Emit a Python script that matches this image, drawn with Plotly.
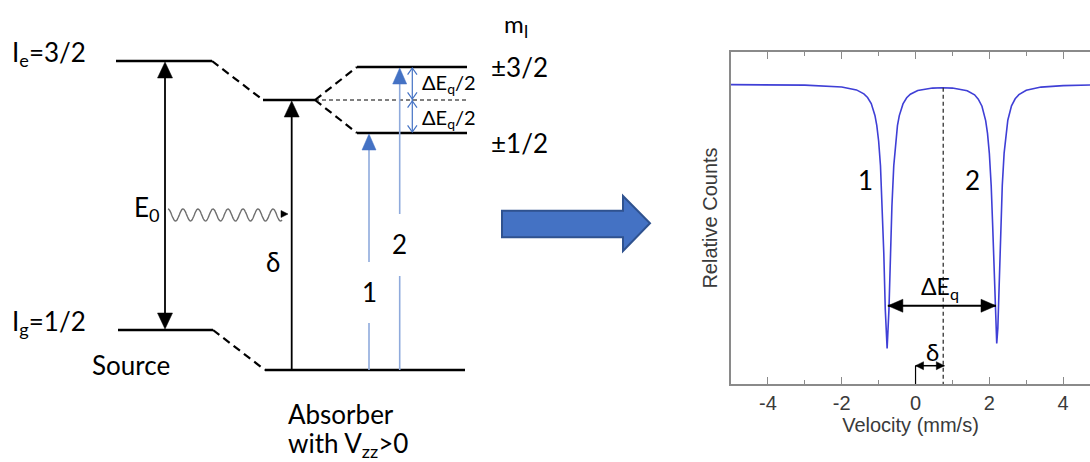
import numpy as np
import plotly.graph_objects as go

# ---------------- Spectrum data ----------------
velocity = [-5.0, -4.0, -3.0, -2.0, -1.6, -1.4, -1.3, -1.2, -1.1, -1.05, -1.0, -0.95,
            -0.9, -0.86, -0.82, -0.77, -0.72, -0.68, -0.64, -0.59, -0.54, -0.49, -0.44,
            -0.34, -0.24, -0.14, 0.06, 0.46, 0.72, 1.0, 1.4, 1.6, 1.7, 1.8, 1.9, 1.95,
            2.0, 2.05, 2.09, 2.13, 2.17, 2.2, 2.23, 2.27, 2.31, 2.35, 2.4, 2.45, 2.5,
            2.6, 2.7, 2.8, 3.0, 3.4, 4.0, 4.8]
counts = [0.9998, 0.9997, 0.9995, 0.9984, 0.9966, 0.9942, 0.9920, 0.9883, 0.9811, 0.9750,
          0.9656, 0.9506, 0.9262, 0.8974, 0.8635, 0.8397, 0.8634, 0.8973, 0.9261, 0.9505,
          0.9655, 0.9749, 0.9810, 0.9881, 0.9918, 0.9940, 0.9962, 0.9977, 0.9979, 0.9977,
          0.9961, 0.9936, 0.9910, 0.9867, 0.9780, 0.9702, 0.9581, 0.9384, 0.9143, 0.8826,
          0.8519, 0.8427, 0.8519, 0.8827, 0.9144, 0.9385, 0.9582, 0.9703, 0.9782, 0.9869,
          0.9912, 0.9937, 0.9964, 0.9983, 0.9992, 0.9996]
tick_values = [-4, -2, 0, 2, 4]
tick_labels = ["-4", "-2", "0", "2", "4"]
minor_tick_values = [-3, -1, 1, 3]
velocity_range = [-5.0, 4.727]
counts_range = [0.8181, 1.0196]
peak_lines = [-0.75, 2.18]          # tips of the ΔEq arrow (line 1, line 2)
centroid = 0.75                     # isomer shift δ (dashed line)
centroid_top = 0.9979               # where the dashed line meets the curve
dEq_level = 0.8656
delta_level = 0.8292
peak_labels = ["1", "2"]
peak_label_v = [-1.35, 1.53]
peak_label_c = 0.9419

# ---------------- Energy-level diagram (schematic frame) ----------------
source_x = [116, 212]               # source levels span
source_y = [61, 330]                # excited (Ie=3/2), ground (Ig=1/2)
abs_exc_x = [263, 315]              # absorber excited (unsplit)
abs_exc_y = 100
abs_gnd_x = [265, 465]              # absorber ground level
abs_gnd_y = 370
split_x = [357, 467]                # quadrupole-split sub-levels
split_y = [67, 133]                 # ±3/2, ±1/2
E0_x = 165
delta_x = 291.7
trans_x = [369, 399.7]              # transitions 1 and 2
trans_gap = [(323, 262), (276, 214)]
trans_label_y = [292, 244]
dEq_arrow_x = 412.3

W, H = 1090, 462
FONT = "Lato, 'Noto Sans', sans-serif"
AXFONT = "'Liberation Sans', Arial, sans-serif"
BLACK = "#000000"
BLUE = "#4472C4"
BLUE_LINE = "#8FAADC"
CURVE = "#3F3FD6"
AXIS_GRAY = "#8A8A8A"
AXTXT = "#3A3A3A"

shapes = []
ann = []


def seg(x0, y0, x1, y1, color=BLACK, width=2.5, dash=None, xref="x", yref="y"):
    ln = dict(color=color, width=width)
    if dash:
        ln["dash"] = dash
    shapes.append(dict(type="line", x0=x0, y0=y0, x1=x1, y1=y1,
                       xref=xref, yref=yref, line=ln, layer="above"))


def head(xt, yt, direction, length, width, color=BLACK):
    dx, dy = {"up": (0, 1), "down": (0, -1), "left": (1, 0), "right": (-1, 0)}[direction]
    bx, by = xt + dx * length, yt + dy * length
    px, py = dy, dx
    path = (f"M {xt},{yt} L {bx + px * width / 2},{by + py * width / 2} "
            f"L {bx - px * width / 2},{by - py * width / 2} Z")
    shapes.append(dict(type="path", path=path, xref="x", yref="y",
                       fillcolor=color, line=dict(color=color, width=0.5)))


def head_px(v, c, direction, length, width, color=BLACK):
    # horizontal arrowhead anchored at a data point of the spectrum axes, sized in pixels
    s = 1 if direction == "left" else -1
    path = f"M 0,0 L {s * length},{width / 2} L {s * length},{-width / 2} Z"
    shapes.append(dict(type="path", path=path, xref="x2", yref="y2",
                       xsizemode="pixel", ysizemode="pixel", xanchor=v, yanchor=c,
                       fillcolor=color, line=dict(color=color, width=0.5)))


def chevron(x, y, direction, hw=4.7, hh=6.7, color=BLUE):
    s = 1 if direction == "up" else -1
    path = f"M {x - hw},{y + s * hh} L {x},{y} L {x + hw},{y + s * hh}"
    shapes.append(dict(type="path", path=path, xref="x", yref="y",
                       fillcolor="rgba(0,0,0,0)", line=dict(color=color, width=1.2)))


def txt(x, y, s, size, xanchor="left", yanchor="middle", xref="x", yref="y",
        color=BLACK, family=FONT):
    ann.append(dict(x=x, y=y, text=s, showarrow=False, xanchor=xanchor, yanchor=yanchor,
                    xref=xref, yref=yref, font=dict(family=family, size=size, color=color)))


# ---- source levels ----
seg(source_x[0], source_y[0], source_x[1], source_y[0])
seg(source_x[0] + 2, source_y[1], source_x[1] + 1, source_y[1])
# connectors (dashed)
seg(source_x[1], source_y[0], abs_exc_x[0], abs_exc_y, dash="8px,5px", width=2.2)
seg(source_x[1] + 1, source_y[1], abs_gnd_x[0], abs_gnd_y, dash="8px,5px", width=2.2)
# absorber levels
seg(abs_exc_x[0], abs_exc_y, abs_exc_x[1], abs_exc_y)
seg(abs_gnd_x[0], abs_gnd_y, abs_gnd_x[1], abs_gnd_y)
seg(abs_exc_x[1], abs_exc_y, split_x[0], split_y[0], dash="8px,5px", width=2.2)
seg(abs_exc_x[1], abs_exc_y, split_x[0], split_y[1], dash="8px,5px", width=2.2)
seg(abs_exc_x[1], abs_exc_y, split_x[1], abs_exc_y, dash="4px,3px", width=1)
seg(split_x[0], split_y[0], split_x[1], split_y[0])
seg(split_x[0], split_y[1], split_x[1], split_y[1])

# E0 double arrow
seg(E0_x, source_y[0] + 6, E0_x, source_y[1] - 6, width=1.8)
head(E0_x, source_y[0] + 1, "up", 16, 15)
head(E0_x, source_y[1] - 1, "down", 16, 15)
# delta arrow (absorber)
seg(delta_x, abs_gnd_y, delta_x, abs_exc_y + 6, width=1.8)
head(delta_x, abs_exc_y + 1, "up", 16, 15)

# transitions 1, 2 (blue)
tops = [split_y[1] + 1, split_y[0] + 1]
for x, (g0, g1), top in zip(trans_x, trans_gap, tops):
    seg(x, abs_gnd_y, x, g0, color=BLUE_LINE, width=1.6)
    seg(x, g1, x, top + 8, color=BLUE_LINE, width=1.6)
    head(x, top, "up", 16, 14, color=BLUE)
for x, y, lab in zip(trans_x, trans_label_y, ["1", "2"]):
    txt(x, y, lab, 26, xanchor="center")

# ΔEq/2 arrows
seg(dEq_arrow_x, split_y[0] + 1, dEq_arrow_x, split_y[1] - 1, color=BLUE, width=1.2)
chevron(dEq_arrow_x, split_y[0] + 1, "up")
chevron(dEq_arrow_x, abs_exc_y - 1, "down")
chevron(dEq_arrow_x, abs_exc_y + 1, "up")
chevron(dEq_arrow_x, split_y[1] - 1, "down")
txt(420, 83, "ΔE<sub>q</sub>/2", 20)
txt(420, 118, "ΔE<sub>q</sub>/2", 20)

# wavy gamma ray
xs = np.linspace(168, 282, 200)
ys = 215 - 6 * np.cos(2 * np.pi * (xs - 168) / 15)
wpath = "M " + " L ".join(f"{a:.1f},{b:.1f}" for a, b in zip(xs, ys))
shapes.append(dict(type="path", path=wpath, xref="x", yref="y",
                   fillcolor="rgba(0,0,0,0)", line=dict(color="#6F6F6F", width=1.4)))
head(288, 214, "right", 7, 7)

# big blue arrow
bpath = "M 502,210.7 L 623,210.7 L 623,196 L 650,223.3 L 623,251 L 623,237.3 L 502,237.3 Z"
shapes.append(dict(type="path", path=bpath, xref="x", yref="y",
                   fillcolor=BLUE, line=dict(color="#2F528F", width=2)))

# diagram texts
txt(10, 53, "I<sub>e</sub>=3/2", 26)
txt(10, 322, "I<sub>g</sub>=1/2", 26)
txt(131, 365, "Source", 26, xanchor="center")
txt(132, 208, "E<sub>0</sub>", 26)
txt(273, 262, "δ", 26, xanchor="center")
txt(502, 25, "m<sub>I</sub>", 24)
txt(489, 67, "±3/2", 26)
txt(489, 143, "±1/2", 26)
txt(286, 414, "Absorber", 26)
txt(286, 444, "with V<sub>zz</sub>>0", 26)

# ---------------- spectrum annotations ----------------
seg(centroid, centroid_top, centroid, counts_range[0], dash="4px,3px", width=1.3,
    color="#333333", xref="x2", yref="y2")
seg(peak_lines[0], dEq_level, peak_lines[1], dEq_level, width=1.8, xref="x2", yref="y2")
head_px(peak_lines[0], dEq_level, "left", 15, 13)
head_px(peak_lines[1], dEq_level, "right", 15, 13)
seg(0.0, delta_level, centroid + 0.03, delta_level, width=1.5, xref="x2", yref="y2")
head_px(0.0, delta_level, "left", 8, 8)
head_px(centroid + 0.03, delta_level, "right", 8, 8)
seg(0.0, delta_level, 0.0, counts_range[0], width=1.2, xref="x2", yref="y2")
for lab, v in zip(peak_labels, peak_label_v):
    txt(v, peak_label_c, lab, 26, xanchor="center", xref="x2", yref="y2")
txt(0.66, 0.8765, "ΔE<sub>q</sub>", 23, xanchor="center", xref="x2", yref="y2")
txt(0.47, 0.8380, "δ", 24, xanchor="center", xref="x2", yref="y2")

fig = go.Figure()
fig.add_trace(go.Scatter(x=velocity, y=counts, xaxis="x2", yaxis="y2", mode="lines",
                         line=dict(color=CURVE, width=1.6), hoverinfo="skip"))

x_lo = 731 / W
fig.update_layout(
    width=W, height=H, margin=dict(l=0, r=0, t=0, b=0),
    paper_bgcolor="white", plot_bgcolor="rgba(0,0,0,0)", showlegend=False,
    xaxis=dict(range=[0, W], domain=[0, 1], visible=False, fixedrange=True),
    yaxis=dict(range=[H, 0], domain=[0, 1], visible=False, fixedrange=True),
    xaxis2=dict(domain=[x_lo, 1], anchor="y2", range=velocity_range,
                showline=True, linecolor=AXIS_GRAY, linewidth=1.5, mirror="ticks",
                ticks="inside", ticklen=7, tickwidth=1.2, tickcolor=AXIS_GRAY,
                tickvals=tick_values, ticktext=tick_labels,
                minor=dict(tickvals=minor_tick_values, ticks="inside", ticklen=4,
                           tickwidth=1.2, tickcolor=AXIS_GRAY),
                showgrid=False, zeroline=False,
                tickfont=dict(family=AXFONT, size=20, color=AXTXT),
                title=dict(text="Velocity (mm/s)", standoff=4,
                           font=dict(family=AXFONT, size=20, color=AXTXT))),
    yaxis2=dict(domain=[78 / H, 410 / H], anchor="x2", range=counts_range,
                showline=True, linecolor=AXIS_GRAY, linewidth=1.5, mirror=False,
                ticks="", showticklabels=False, showgrid=False, zeroline=False,
                title=dict(text="Relative Counts", standoff=6,
                           font=dict(family=AXFONT, size=20, color=AXTXT))),
    shapes=shapes, annotations=ann,
)
fig.write_html("out.html")
